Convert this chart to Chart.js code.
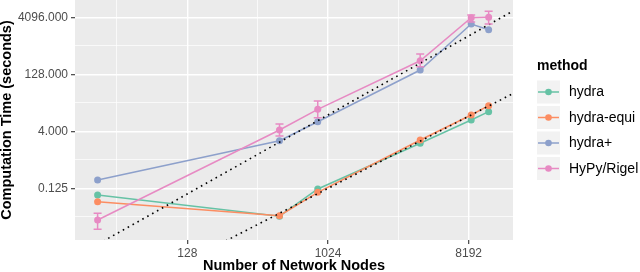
<!DOCTYPE html>
<html><head><meta charset="utf-8">
<script src="https://cdn.jsdelivr.net/npm/chart.js@4.4.1/dist/chart.umd.min.js"></script>
<style>html,body{margin:0;padding:0;background:#fff}#wrap{width:640px;height:272px;position:relative}</style>
</head><body><div id="wrap"><canvas id="c" width="640" height="272"></canvas></div>
<script>
// ---- data ----
const nodes = [34, 500, 880, 4000, 8500, 11000];
const hydra = [0.083, 0.0230, 0.120, 1.93, 7.95, 13.2];
const hydraEqui = [0.0553, 0.0237, 0.098, 2.36, 10.8, 19.0];
const hydraPlus = [0.207, 2.26, 7.17, 166, 2723, 1925];
const hypy = [0.0182, 4.33, 15.2, 292, 4000, 4096];
const hypyLow = [0.0103, 3.0, 9.1, 204, 3090, 2720];
const hypyHigh = [0.0274, 6.24, 25.3, 440, 4700, 5900];
// dotted reference lines (end points)
const ref1X = [32, 16384];
const ref1Y = [0.0036, 6560];
const ref2X = [181, 16384];
const ref2Y = [0.0032, 43.1];
// ticks
const xMajor = [128, 1024, 8192];
const xMinor = [Math.pow(2, 5.5), Math.pow(2, 8.5), Math.pow(2, 11.5)];
const yMajor = [0.125, 4, 128, 4096];
const yMinor = [Math.pow(2, -5.5), Math.pow(2, -0.5), Math.pow(2, 4.5), Math.pow(2, 9.5)];
const yLabels = ['0.125', '4.000', '128.000', '4096.000'];
const methods = ['hydra', 'hydra-equi', 'hydra+', 'HyPy/Rigel'];
const colors = ['#66C2A5', '#FC8D62', '#8DA0CB', '#E78AC3'];

const FAM = '"Liberation Sans", Arial, Helvetica, sans-serif';
const pts = (xs, ys) => xs.map((x, i) => ({x: x, y: ys[i]}));
const series = [hydra, hydraEqui, hydraPlus, hypy];

const datasets = series.map((s, i) => ({
  label: methods[i],
  data: pts(nodes, s),
  showLine: true,
  borderColor: colors[i],
  backgroundColor: colors[i],
  borderWidth: 1.5,
  pointRadius: 3.5,
  pointBorderWidth: 0,
  pointBackgroundColor: colors[i],
  order: 4 - i
}));
[[ref1X, ref1Y], [ref2X, ref2Y]].forEach(([xs, ys], k) => datasets.push({
  label: 'ref' + (k + 1),
  data: pts(xs, ys),
  showLine: true,
  borderColor: '#000',
  borderWidth: 1.6,
  borderDash: [1.6, 4],
  borderCapStyle: 'butt',
  pointRadius: 0,
  order: 0
}));

const isMajor = (arr, v) => arr.some(a => Math.abs(a - v) / a < 1e-9);

const bgPlugin = {
  id: 'bg',
  beforeDraw(chart) {
    const {ctx, chartArea: a} = chart;
    ctx.save();
    ctx.fillStyle = '#EBEBEB';
    ctx.fillRect(a.left, a.top, a.right - a.left, a.bottom - a.top);
    ctx.restore();
  }
};

const errPlugin = {
  id: 'err',
  afterDatasetsDraw(chart) {
    const {ctx} = chart;
    const xs = chart.scales.x, ys = chart.scales.y;
    ctx.save();
    ctx.strokeStyle = colors[3];
    ctx.lineWidth = 1.5;
    nodes.forEach((n, i) => {
      const px = xs.getPixelForValue(n);
      const y1 = ys.getPixelForValue(hypyLow[i]);
      const y2 = ys.getPixelForValue(hypyHigh[i]);
      const w = 4;
      ctx.beginPath();
      ctx.moveTo(px, y1); ctx.lineTo(px, y2);
      ctx.moveTo(px - w, y1); ctx.lineTo(px + w, y1);
      ctx.moveTo(px - w, y2); ctx.lineTo(px + w, y2);
      ctx.stroke();
    });
    ctx.restore();
  }
};

const legendPlugin = {
  id: 'mylegend',
  afterDraw(chart) {
    const {ctx} = chart;
    ctx.save();
    ctx.fillStyle = '#000';
    ctx.font = 'bold 14px ' + FAM;
    ctx.textBaseline = 'middle';
    ctx.textAlign = 'left';
    ctx.fillText('method', 537, 66);
    methods.forEach((m, i) => {
      const cy = 92 + i * 25.5;
      ctx.fillStyle = '#F2F2F2';
      ctx.fillRect(537, cy - 11.5, 23, 23);
      ctx.strokeStyle = colors[i];
      ctx.lineWidth = 1.5;
      ctx.beginPath();
      ctx.moveTo(538, cy); ctx.lineTo(559, cy);
      ctx.stroke();
      ctx.fillStyle = colors[i];
      ctx.beginPath();
      ctx.arc(548.5, cy, 3.3, 0, Math.PI * 2);
      ctx.fill();
      ctx.fillStyle = '#000';
      ctx.font = '14px ' + FAM;
      ctx.fillText(m, 569, cy + 0.5);
    });
    ctx.restore();
  }
};

new Chart(document.getElementById('c'), {
  type: 'scatter',
  data: {datasets: datasets},
  plugins: [bgPlugin, errPlugin, legendPlugin],
  options: {
    responsive: false,
    animation: false,
    devicePixelRatio: 1,
    layout: {padding: {left: 0, top: 0, right: 127, bottom: 0}, autoPadding: false},
    plugins: {legend: {display: false}, tooltip: {enabled: false}},
    scales: {
      x: {
        type: 'logarithmic',
        min: Math.pow(2, 4.6055),
        max: Math.pow(2, 13.9446),
        afterBuildTicks: s => { s.ticks = xMinor.concat(xMajor).sort((a, b) => a - b).map(v => ({value: v})); },
        afterFit: s => { s.height = 32; s.paddingLeft = 0; s.paddingRight = 0; },
        ticks: {
          autoSkip: false, maxRotation: 0, minRotation: 0, padding: 2,
          color: '#4D4D4D', font: {size: 12, family: FAM},
          callback: v => isMajor(xMajor, v) ? String(Math.round(v)) : ''
        },
        grid: {
          color: '#FFFFFF',
          lineWidth: c => isMajor(xMajor, c.tick.value) ? 1.4 : 0.7,
          tickColor: c => isMajor(xMajor, c.tick.value) ? '#333333' : 'rgba(0,0,0,0)',
          tickLength: 4, tickWidth: 1.1
        },
        border: {display: false},
        title: {display: true, text: 'Number of Network Nodes', color: '#000', padding: 0,
                font: {size: 14.5, weight: 'bold', family: FAM, lineHeight: 0.8}}
      },
      y: {
        type: 'logarithmic',
        min: Math.pow(2, -7.535),
        max: Math.pow(2, 13.518),
        afterBuildTicks: s => { s.ticks = yMinor.concat(yMajor).sort((a, b) => a - b).map(v => ({value: v})); },
        afterFit: s => { s.width = 75; s.paddingTop = 0; s.paddingBottom = 0; },
        ticks: {
          autoSkip: false, padding: 3,
          color: '#4D4D4D', font: {size: 12, family: FAM},
          callback: v => { const k = yMajor.findIndex(a => Math.abs(a - v) / a < 1e-9); return k >= 0 ? yLabels[k] : ''; }
        },
        grid: {
          color: '#FFFFFF',
          lineWidth: c => isMajor(yMajor, c.tick.value) ? 1.4 : 0.7,
          tickColor: c => isMajor(yMajor, c.tick.value) ? '#333333' : 'rgba(0,0,0,0)',
          tickLength: 4, tickWidth: 1.1
        },
        border: {display: false},
        title: {display: true, text: 'Computation Time (seconds)', color: '#000', padding: 0,
                font: {size: 14.5, weight: 'bold', family: FAM, lineHeight: 1.0}}
      }
    }
  }
});
</script></body></html>
